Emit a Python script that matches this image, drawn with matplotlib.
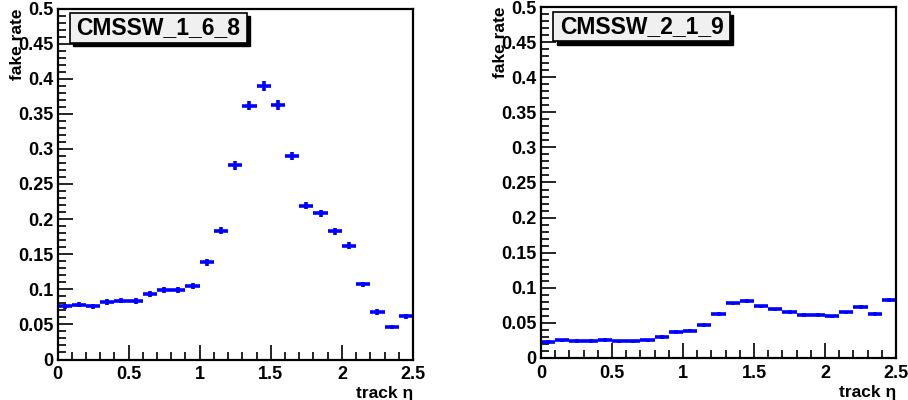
import numpy as np
import matplotlib
matplotlib.use("Agg")
import matplotlib.pyplot as plt
from matplotlib.patches import Rectangle
from matplotlib.ticker import MultipleLocator, FuncFormatter

plt.rcParams['font.family'] = ['Liberation Sans', 'DejaVu Sans']
plt.rcParams['font.weight'] = 'bold'
plt.rcParams['axes.labelweight'] = 'bold'

# 25 bins in eta, width 0.1
bin_edges = np.linspace(0, 2.5, 26)

rate_168 = [0.0755, 0.0783, 0.0755, 0.0817, 0.084, 0.0836, 0.093, 0.0988, 0.0988, 0.1045,
            0.1387, 0.1833, 0.2764, 0.3618, 0.390, 0.3628, 0.290, 0.219, 0.208, 0.183,
            0.162, 0.107, 0.068, 0.0465, 0.0613]
err_168 = [0.004, 0.004, 0.004, 0.004, 0.004, 0.004, 0.004, 0.004, 0.004, 0.004,
           0.005, 0.005, 0.006, 0.007, 0.007, 0.007, 0.006, 0.005, 0.005, 0.005,
           0.005, 0.004, 0.004, 0.003, 0.004]

rate_219 = [0.0227, 0.0251, 0.0242, 0.0242, 0.0256, 0.0237, 0.0237, 0.0251, 0.0299, 0.037,
            0.0389, 0.0469, 0.063, 0.0777, 0.0815, 0.0735, 0.0692, 0.0654, 0.0611, 0.0611,
            0.0592, 0.0649, 0.0725, 0.063, 0.0829]
err_219 = [0.0025] * 25

labels = ["CMSSW_1_6_8", "CMSSW_2_1_9"]


def root_hist(ax, rates, errs, label):
    centers = (bin_edges[:-1] + bin_edges[1:]) / 2
    ax.errorbar(centers, rates, xerr=0.05, yerr=errs, fmt='none',
                ecolor='#0000ff', elinewidth=2.6, capsize=0)
    ax.set_xlim(0, 2.5)
    ax.set_ylim(0, 0.5)
    ax.xaxis.set_major_locator(MultipleLocator(0.5))
    ax.xaxis.set_minor_locator(MultipleLocator(0.1))
    ax.yaxis.set_major_locator(MultipleLocator(0.05))
    ax.yaxis.set_minor_locator(MultipleLocator(0.01))
    ax.xaxis.set_major_formatter(FuncFormatter(lambda v, p: ('%g' % round(v, 2))))
    ax.yaxis.set_major_formatter(FuncFormatter(lambda v, p: ('%g' % round(v, 2))))
    ax.tick_params(which='both', direction='in', top=False, right=False,
                   labelsize=13, width=1.2)
    ax.tick_params(which='major', length=11)
    ax.tick_params(which='minor', length=6)
    ax.tick_params(axis='x', pad=5)
    ax.tick_params(axis='y', pad=3)
    for s in ax.spines.values():
        s.set_linewidth(1.6)
    ax.set_xlabel('track \u03b7', loc='right', fontsize=12.5, labelpad=2)
    ax.set_ylabel('fake rate', loc='top', fontsize=12.5)
    ax.yaxis.set_label_coords(-0.092, 1.0)

    # label box with shadow, ROOT style
    x0, y0, w, h = 0.035, 0.902, 0.498, 0.085
    ax.add_patch(Rectangle((x0 + 0.009, y0 - 0.009), w, h, transform=ax.transAxes,
                           facecolor='black', edgecolor='black', zorder=5, clip_on=False))
    ax.add_patch(Rectangle((x0, y0), w, h, transform=ax.transAxes,
                           facecolor='#f0f0f0', edgecolor='black', lw=1.2, zorder=6, clip_on=False))
    ax.text(x0 + w / 2, y0 + h / 2, label, transform=ax.transAxes, ha='center', va='center',
            fontsize=16.5, fontweight='bold', zorder=7)


fig = plt.figure(figsize=(9.08, 4.0), dpi=100)
ax1 = fig.add_axes([57.5 / 908, 40.5 / 400, 355.5 / 908, 351 / 400])
ax2 = fig.add_axes([541 / 908, 42 / 400, 355 / 908, 351 / 400])

root_hist(ax1, rate_168, err_168, labels[0])
root_hist(ax2, rate_219, err_219, labels[1])

fig.savefig('out.png', dpi=100)
